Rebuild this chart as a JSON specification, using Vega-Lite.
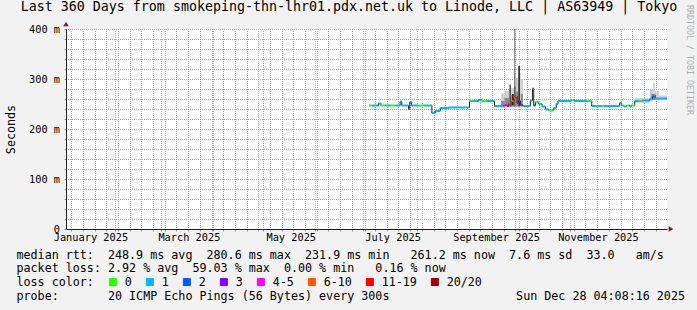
{
  "$schema": "https://vega.github.io/schema/vega-lite/v6.json",
  "width": 601,
  "height": 200,
  "autosize": "none",
  "padding": {"left": 66, "top": 29, "right": 30, "bottom": 81},
  "background": "#F2F2F2",
  "config": {"view": {"stroke": null, "fill": "#FFFFFF"}},
  "title": {
    "text": "Last 360 Days from smokeping-thn-lhr01.pdx.net.uk to Linode, LLC | AS63949 | Tokyo",
    "font": "DejaVu Sans Mono",
    "fontSize": 13.3,
    "fontWeight": "normal",
    "color": "#000000",
    "anchor": "middle",
    "frame": "group",
    "dx": -17.5,
    "baseline": "alphabetic",
    "offset": -19.5
  },
  "datasets": {
    "med": [
      {"s": "2025-07-03T08:00", "e": "2025-07-05T12:00", "m": 247, "l": "0"},
      {"s": "2025-07-05T12:00", "e": "2025-07-09T00:00", "m": 247, "l": "1"},
      {"s": "2025-07-09T00:00", "e": "2025-07-10T12:00", "m": 251, "l": "1"},
      {"s": "2025-07-10T12:00", "e": "2025-07-13T00:00", "m": 247, "l": "0"},
      {"s": "2025-07-13T00:00", "e": "2025-07-16T00:00", "m": 247, "l": "1"},
      {"s": "2025-07-16T00:00", "e": "2025-07-19T00:00", "m": 247, "l": "0"},
      {"s": "2025-07-19T00:00", "e": "2025-07-22T00:00", "m": 247, "l": "1"},
      {"s": "2025-07-22T00:00", "e": "2025-07-23T00:00", "m": 255, "l": "1"},
      {"s": "2025-07-23T00:00", "e": "2025-07-27T00:00", "m": 247, "l": "1"},
      {"s": "2025-07-27T00:00", "e": "2025-07-27T18:00", "m": 240, "l": "4-5"},
      {"s": "2025-07-27T18:00", "e": "2025-07-28T18:00", "m": 254, "l": "1"},
      {"s": "2025-07-28T18:00", "e": "2025-08-02T00:00", "m": 247, "l": "1"},
      {"s": "2025-08-02T00:00", "e": "2025-08-05T00:00", "m": 247, "l": "0"},
      {"s": "2025-08-05T00:00", "e": "2025-08-10T00:00", "m": 247, "l": "1"},
      {"s": "2025-08-10T00:00", "e": "2025-08-12T00:00", "m": 232, "l": "1"},
      {"s": "2025-08-12T00:00", "e": "2025-08-15T00:00", "m": 236, "l": "1"},
      {"s": "2025-08-15T00:00", "e": "2025-08-20T00:00", "m": 242, "l": "1"},
      {"s": "2025-08-20T00:00", "e": "2025-09-01T12:00", "m": 243, "l": "1"},
      {"s": "2025-09-01T12:00", "e": "2025-09-04T00:00", "m": 256, "l": "0"},
      {"s": "2025-09-04T00:00", "e": "2025-09-07T00:00", "m": 256, "l": "1"},
      {"s": "2025-09-07T00:00", "e": "2025-09-09T00:00", "m": 258, "l": "1"},
      {"s": "2025-09-09T00:00", "e": "2025-09-12T00:00", "m": 256, "l": "0"},
      {"s": "2025-09-12T00:00", "e": "2025-09-16T12:00", "m": 256, "l": "1"},
      {"s": "2025-09-16T12:00", "e": "2025-09-22T00:00", "m": 246, "l": "1"},
      {"s": "2025-09-22T00:00", "e": "2025-09-23T00:00", "m": 247, "l": "4-5"},
      {"s": "2025-09-23T00:00", "e": "2025-09-24T00:00", "m": 248, "l": "4-5"},
      {"s": "2025-09-24T00:00", "e": "2025-09-25T00:00", "m": 246, "l": "3"},
      {"s": "2025-09-25T00:00", "e": "2025-09-26T00:00", "m": 251, "l": "6-10"},
      {"s": "2025-09-26T00:00", "e": "2025-09-27T00:00", "m": 247, "l": "4-5"},
      {"s": "2025-09-27T00:00", "e": "2025-09-28T00:00", "m": 256, "l": "6-10"},
      {"s": "2025-09-28T00:00", "e": "2025-09-29T00:00", "m": 263, "l": "6-10"},
      {"s": "2025-09-29T00:00", "e": "2025-09-30T00:00", "m": 266, "l": "6-10"},
      {"s": "2025-09-30T00:00", "e": "2025-10-01T00:00", "m": 252, "l": "11-19"},
      {"s": "2025-10-01T00:00", "e": "2025-10-02T00:00", "m": 256, "l": "3"},
      {"s": "2025-10-02T00:00", "e": "2025-10-03T12:00", "m": 248, "l": "2"},
      {"s": "2025-10-03T12:00", "e": "2025-10-08T00:00", "m": 246, "l": "1"},
      {"s": "2025-10-08T00:00", "e": "2025-10-09T06:00", "m": 257, "l": "1"},
      {"s": "2025-10-09T06:00", "e": "2025-10-10T00:00", "m": 281, "l": "1"},
      {"s": "2025-10-10T00:00", "e": "2025-10-11T00:00", "m": 247, "l": "2"},
      {"s": "2025-10-11T00:00", "e": "2025-10-13T00:00", "m": 254, "l": "0"},
      {"s": "2025-10-13T00:00", "e": "2025-10-15T00:00", "m": 250, "l": "1"},
      {"s": "2025-10-15T00:00", "e": "2025-10-17T00:00", "m": 245, "l": "1"},
      {"s": "2025-10-17T00:00", "e": "2025-10-19T00:00", "m": 239, "l": "1"},
      {"s": "2025-10-19T00:00", "e": "2025-10-22T00:00", "m": 237, "l": "0"},
      {"s": "2025-10-22T00:00", "e": "2025-10-23T12:00", "m": 242, "l": "1"},
      {"s": "2025-10-23T12:00", "e": "2025-10-24T12:00", "m": 250, "l": "1"},
      {"s": "2025-10-24T12:00", "e": "2025-11-01T12:00", "m": 256, "l": "1"},
      {"s": "2025-11-01T12:00", "e": "2025-11-03T12:00", "m": 258, "l": "0"},
      {"s": "2025-11-03T12:00", "e": "2025-11-11T00:00", "m": 256, "l": "1"},
      {"s": "2025-11-11T00:00", "e": "2025-11-13T18:00", "m": 256, "l": "0"},
      {"s": "2025-11-13T18:00", "e": "2025-11-19T12:00", "m": 246, "l": "1"},
      {"s": "2025-11-19T12:00", "e": "2025-11-21T12:00", "m": 246, "l": "0"},
      {"s": "2025-11-21T12:00", "e": "2025-11-30T12:00", "m": 246, "l": "1"},
      {"s": "2025-11-30T12:00", "e": "2025-12-01T12:00", "m": 252, "l": "1"},
      {"s": "2025-12-01T12:00", "e": "2025-12-03T00:00", "m": 247, "l": "0"},
      {"s": "2025-12-03T00:00", "e": "2025-12-04T12:00", "m": 245, "l": "1"},
      {"s": "2025-12-04T12:00", "e": "2025-12-06T12:00", "m": 247, "l": "0"},
      {"s": "2025-12-06T12:00", "e": "2025-12-07T12:00", "m": 245, "l": "1"},
      {"s": "2025-12-07T12:00", "e": "2025-12-09T12:00", "m": 247, "l": "0"},
      {"s": "2025-12-09T12:00", "e": "2025-12-12T00:00", "m": 256, "l": "1"},
      {"s": "2025-12-12T00:00", "e": "2025-12-14T00:00", "m": 256, "l": "0"},
      {"s": "2025-12-14T00:00", "e": "2025-12-18T12:00", "m": 257, "l": "1"},
      {"s": "2025-12-18T12:00", "e": "2025-12-20T00:00", "m": 260, "l": "1"},
      {"s": "2025-12-20T00:00", "e": "2025-12-21T00:00", "m": 265, "l": "2"},
      {"s": "2025-12-21T00:00", "e": "2025-12-21T18:00", "m": 267, "l": "1"},
      {"s": "2025-12-21T18:00", "e": "2025-12-28T20:00", "m": 261, "l": "1"}
    ],
    "smoke": [
      {"s": "2025-09-07T12:00", "e": "2025-09-09T12:00", "lo": 252, "hi": 262, "g": "a"},
      {"s": "2025-09-20T12:00", "e": "2025-09-22T12:00", "lo": 243, "hi": 271, "g": "a"},
      {"s": "2025-09-22T12:00", "e": "2025-09-25T06:00", "lo": 243, "hi": 276, "g": "a"},
      {"s": "2025-09-25T06:00", "e": "2025-09-26T12:00", "lo": 243, "hi": 280, "g": "a"},
      {"s": "2025-09-26T12:00", "e": "2025-09-28T06:00", "lo": 243, "hi": 282, "g": "a"},
      {"s": "2025-09-28T06:00", "e": "2025-09-29T06:00", "lo": 243, "hi": 310, "g": "a"},
      {"s": "2025-09-29T06:00", "e": "2025-09-30T18:00", "lo": 243, "hi": 302, "g": "a"},
      {"s": "2025-09-30T18:00", "e": "2025-10-02T06:00", "lo": 243, "hi": 312, "g": "a"},
      {"s": "2025-10-02T06:00", "e": "2025-10-03T12:00", "lo": 243, "hi": 300, "g": "a"},
      {"s": "2025-12-09T12:00", "e": "2025-12-18T12:00", "lo": 252, "hi": 262, "g": "a"},
      {"s": "2025-12-18T12:00", "e": "2025-12-20T12:00", "lo": 255, "hi": 279, "g": "a"},
      {"s": "2025-12-20T12:00", "e": "2025-12-21T12:00", "lo": 258, "hi": 292, "g": "a"},
      {"s": "2025-12-21T12:00", "e": "2025-12-24T00:00", "lo": 258, "hi": 276, "g": "a"},
      {"s": "2025-12-24T00:00", "e": "2025-12-28T20:00", "lo": 258, "hi": 267, "g": "a"},
      {"s": "2025-09-20T12:00", "e": "2025-09-22T12:00", "lo": 245, "hi": 256, "g": "b"},
      {"s": "2025-09-22T12:00", "e": "2025-09-25T06:00", "lo": 245, "hi": 262, "g": "b"},
      {"s": "2025-09-26T12:00", "e": "2025-09-28T06:00", "lo": 245, "hi": 268, "g": "b"},
      {"s": "2025-09-28T06:00", "e": "2025-09-29T06:00", "lo": 245, "hi": 285, "g": "b"},
      {"s": "2025-09-29T06:00", "e": "2025-09-30T18:00", "lo": 245, "hi": 275, "g": "b"},
      {"s": "2025-10-02T06:00", "e": "2025-10-03T12:00", "lo": 245, "hi": 270, "g": "b"},
      {"s": "2025-12-19T12:00", "e": "2025-12-22T00:00", "lo": 258, "hi": 270, "g": "b"},
      {"s": "2025-09-25T12:00", "e": "2025-09-26T06:00", "lo": 245, "hi": 289, "g": "c"},
      {"s": "2025-09-27T00:00", "e": "2025-09-28T00:00", "lo": 248, "hi": 270, "g": "c"},
      {"s": "2025-09-28T12:00", "e": "2025-09-28T22:00", "lo": 245, "hi": 400, "g": "c"},
      {"s": "2025-09-30T18:00", "e": "2025-10-01T18:00", "lo": 245, "hi": 326, "g": "c"}
    ],
    "ax": [
      {"s": "2025-01-02T20:00", "m": 400, "k": "up"},
      {"s": "2025-12-28T20:00", "m": 0, "k": "right"}
    ]
  },
  "layer": [
    {
      "data": {"name": "smoke"},
      "mark": {"type": "rect", "clip": true},
      "encoding": {
        "x": {
          "field": "s",
          "type": "temporal",
          "scale": {"domain": [{"year": 2025, "month": 1, "date": 2, "hours": 20}, {"year": 2025, "month": 12, "date": 28, "hours": 20}]},
          "axis": {
            "orient": "bottom",
            "values": [
              {"year": 2025, "month": 1, "date": 6}, {"year": 2025, "month": 1, "date": 13}, {"year": 2025, "month": 1, "date": 20}, {"year": 2025, "month": 1, "date": 27},
              {"year": 2025, "month": 2, "date": 3}, {"year": 2025, "month": 2, "date": 10}, {"year": 2025, "month": 2, "date": 17}, {"year": 2025, "month": 2, "date": 24},
              {"year": 2025, "month": 3, "date": 3}, {"year": 2025, "month": 3, "date": 10}, {"year": 2025, "month": 3, "date": 17}, {"year": 2025, "month": 3, "date": 24}, {"year": 2025, "month": 3, "date": 31},
              {"year": 2025, "month": 4, "date": 7}, {"year": 2025, "month": 4, "date": 14}, {"year": 2025, "month": 4, "date": 21}, {"year": 2025, "month": 4, "date": 28},
              {"year": 2025, "month": 5, "date": 5}, {"year": 2025, "month": 5, "date": 12}, {"year": 2025, "month": 5, "date": 19}, {"year": 2025, "month": 5, "date": 26},
              {"year": 2025, "month": 6, "date": 2}, {"year": 2025, "month": 6, "date": 9}, {"year": 2025, "month": 6, "date": 16}, {"year": 2025, "month": 6, "date": 23}, {"year": 2025, "month": 6, "date": 30},
              {"year": 2025, "month": 7, "date": 7}, {"year": 2025, "month": 7, "date": 14}, {"year": 2025, "month": 7, "date": 21}, {"year": 2025, "month": 7, "date": 28},
              {"year": 2025, "month": 8, "date": 4}, {"year": 2025, "month": 8, "date": 11}, {"year": 2025, "month": 8, "date": 18}, {"year": 2025, "month": 8, "date": 25},
              {"year": 2025, "month": 9, "date": 8}, {"year": 2025, "month": 9, "date": 15}, {"year": 2025, "month": 9, "date": 22}, {"year": 2025, "month": 9, "date": 29},
              {"year": 2025, "month": 10, "date": 6}, {"year": 2025, "month": 10, "date": 13}, {"year": 2025, "month": 10, "date": 20}, {"year": 2025, "month": 10, "date": 27},
              {"year": 2025, "month": 11, "date": 3}, {"year": 2025, "month": 11, "date": 10}, {"year": 2025, "month": 11, "date": 17}, {"year": 2025, "month": 11, "date": 24},
              {"year": 2025, "month": 12, "date": 8}, {"year": 2025, "month": 12, "date": 15}, {"year": 2025, "month": 12, "date": 22}
            ],
            "grid": true,
            "gridColor": "rgba(143,143,143,0.75)",
            "gridDash": [1, 1],
            "gridDashOffset": 0.5,
            "gridWidth": 1,
            "ticks": true,
            "tickSize": 2,
            "tickColor": "rgba(143,143,143,0.9)",
            "domain": false,
            "labels": false,
            "title": null
          }
        },
        "x2": {"field": "e"},
        "y": {
          "field": "lo",
          "type": "quantitative",
          "scale": {"domain": [0, 400], "nice": false},
          "axis": {
            "orient": "left",
            "values": [20, 40, 60, 80, 120, 140, 160, 180, 220, 240, 260, 280, 320, 340, 360, 380],
            "grid": true,
            "gridColor": "rgba(143,143,143,0.75)",
            "gridDash": [1, 1],
            "gridDashOffset": 0.5,
            "gridWidth": 1,
            "ticks": true,
            "tickSize": 2,
            "tickColor": "rgba(143,143,143,0.9)",
            "domain": false,
            "labels": false,
            "title": null
          }
        },
        "y2": {"field": "hi"},
        "fill": {
          "field": "g",
          "type": "nominal",
          "scale": {"domain": ["a", "b", "c"], "range": ["#CFCFCF", "#8C8C8C", "#2E2E2E"]},
          "legend": null
        }
      }
    },
    {
      "data": {"name": "med"},
      "mark": {"type": "line", "interpolate": "step-after", "color": "#202020", "strokeWidth": 1, "clip": true},
      "encoding": {
        "x": {
          "field": "s",
          "type": "temporal",
          "scale": {"domain": [{"year": 2025, "month": 1, "date": 2, "hours": 20}, {"year": 2025, "month": 12, "date": 28, "hours": 20}]},
          "axis": {
            "orient": "bottom",
            "values": [
              {"year": 2025, "month": 2, "date": 1}, {"year": 2025, "month": 3, "date": 1},
              {"year": 2025, "month": 4, "date": 1}, {"year": 2025, "month": 5, "date": 1}, {"year": 2025, "month": 6, "date": 1},
              {"year": 2025, "month": 7, "date": 1}, {"year": 2025, "month": 8, "date": 1}, {"year": 2025, "month": 9, "date": 1},
              {"year": 2025, "month": 10, "date": 1}, {"year": 2025, "month": 11, "date": 1}, {"year": 2025, "month": 12, "date": 1}
            ],
            "grid": true,
            "gridColor": "rgba(222,79,79,0.6)",
            "gridDash": [1, 1],
            "gridDashOffset": 0.5,
            "gridWidth": 1,
            "ticks": true,
            "tickSize": 2,
            "tickColor": "rgba(222,79,79,0.8)",
            "domain": true,
            "domainColor": "#1F1F1F",
            "labels": false,
            "title": [
              "median\u00a0rtt:\u00a0\u00a0248.9\u00a0ms\u00a0avg\u00a0\u00a0280.6\u00a0ms\u00a0max\u00a0\u00a0231.9\u00a0ms\u00a0min\u00a0\u00a0\u00a0261.2\u00a0ms\u00a0now\u00a0\u00a07.6\u00a0ms\u00a0sd\u00a0\u00a033.0\u00a0\u00a0\u00a0am/s",
              "packet\u00a0loss:\u00a02.92\u00a0%\u00a0avg\u00a0\u00a059.03\u00a0%\u00a0max\u00a0\u00a00.00\u00a0%\u00a0min\u00a0\u00a0\u00a00.16\u00a0%\u00a0now",
              "loss\u00a0color:",
              "probe:\u00a0\u00a0\u00a0\u00a0\u00a0\u00a0\u00a020\u00a0ICMP\u00a0Echo\u00a0Pings\u00a0(56\u00a0Bytes)\u00a0every\u00a0300s\u00a0\u00a0\u00a0\u00a0\u00a0\u00a0\u00a0\u00a0\u00a0\u00a0\u00a0\u00a0\u00a0\u00a0\u00a0\u00a0\u00a0\u00a0Sun\u00a0Dec\u00a028\u00a004:08:16\u00a02025"
            ],
            "titleX": -50,
            "titleY": 29.2,
            "titleAlign": "left",
            "titleAnchor": "start",
            "titleBaseline": "alphabetic",
            "titleFont": "DejaVu Sans Mono",
            "titleFontSize": 11.7,
            "titleFontWeight": "normal",
            "titleColor": "#000000",
            "titleLineHeight": 13.8
          }
        },
        "y": {
          "field": "m",
          "type": "quantitative",
          "scale": {"domain": [0, 400], "nice": false},
          "axis": {
            "orient": "left",
            "values": [0, 100, 200, 300, 400],
            "grid": true,
            "gridColor": "rgba(222,79,79,0.6)",
            "gridDash": [1, 1],
            "gridDashOffset": 0.5,
            "gridWidth": 1,
            "ticks": true,
            "tickSize": 2,
            "tickColor": "rgba(222,79,79,0.8)",
            "domain": true,
            "domainColor": "#1F1F1F",
            "labelExpr": "datum.value == 0 ? '0\u00a0\u00a0' : datum.value + '\u00a0m'",
            "labelFont": "DejaVu Sans Mono",
            "labelFontSize": 10.3,
            "labelColor": "#000000",
            "labelPadding": 4.5,
            "labelOverlap": false,
            "labelBound": false,
            "labelFlush": false,
            "title": "Seconds",
            "titleFont": "DejaVu Sans Mono",
            "titleFontSize": 11.7,
            "titleFontWeight": "normal",
            "titleColor": "#000000",
            "titleX": -56,
            "titleY": 100,
            "titleAngle": 270,
            "titleAlign": "center",
            "titleBaseline": "middle"
          }
        }
      }
    },
    {
      "data": {"name": "med"},
      "mark": {"type": "rule", "strokeWidth": 2, "strokeCap": "butt", "clip": true},
      "encoding": {
        "x": {
          "field": "s",
          "type": "temporal",
          "scale": {"domain": [{"year": 2025, "month": 1, "date": 2, "hours": 20}, {"year": 2025, "month": 12, "date": 28, "hours": 20}]},
          "axis": {
            "orient": "bottom",
            "values": [
              {"year": 2025, "month": 1, "date": 17, "hours": 11}, {"year": 2025, "month": 3, "date": 17, "hours": 11},
              {"year": 2025, "month": 5, "date": 17, "hours": 11}, {"year": 2025, "month": 7, "date": 17, "hours": 11},
              {"year": 2025, "month": 9, "date": 17, "hours": 11}, {"year": 2025, "month": 11, "date": 17, "hours": 11}
            ],
            "format": "%B %Y",
            "grid": false,
            "ticks": false,
            "domain": false,
            "labelPadding": 11.5,
            "labelBaseline": "alphabetic",
            "labelAlign": "center",
            "labelFont": "DejaVu Sans Mono",
            "labelFontSize": 10.3,
            "labelColor": "#000000",
            "labelOverlap": false,
            "labelBound": false,
            "labelFlush": false,
            "title": null
          }
        },
        "x2": {"field": "e"},
        "y": {"field": "m", "type": "quantitative", "scale": {"domain": [0, 400], "nice": false}, "axis": null},
        "color": {
          "field": "l",
          "type": "nominal",
          "scale": {
            "domain": ["0", "1", "2", "3", "4-5", "6-10", "11-19", "20/20"],
            "range": ["#26ff00", "#00b8ff", "#0059ff", "#7e00ff", "#ff00ff", "#ff5500", "#ff0000", "#a00000"]
          },
          "legend": {
            "orient": "none",
            "legendX": 41,
            "legendY": 247,
            "direction": "horizontal",
            "title": null,
            "padding": 0,
            "symbolType": "square",
            "symbolSize": 49,
            "labelFont": "DejaVu Sans Mono",
            "labelFontSize": 11.7,
            "labelColor": "#000000",
            "labelOffset": 6,
            "columnPadding": 12,
            "encode": {
              "symbols": {
                "update": {
                  "fill": {"scale": "color", "field": "value"},
                  "stroke": {"value": "#000000"},
                  "strokeWidth": {"value": 1},
                  "opacity": {"value": 1}
                }
              }
            }
          }
        }
      }
    },
    {
      "data": {"name": "ax"},
      "transform": [{"filter": "datum.k == 'up'"}],
      "mark": {"type": "point", "shape": "triangle-up", "filled": true, "color": "#801F1F", "size": 30, "opacity": 1, "yOffset": -5},
      "encoding": {
        "x": {
          "field": "s",
          "type": "temporal",
          "scale": {"domain": [{"year": 2025, "month": 1, "date": 2, "hours": 20}, {"year": 2025, "month": 12, "date": 28, "hours": 20}]},
          "axis": null
        },
        "y": {
          "field": "m",
          "type": "quantitative",
          "scale": {"domain": [0, 400], "nice": false},
          "axis": {
            "orient": "right",
            "grid": false,
            "labels": false,
            "ticks": false,
            "domain": false,
            "title": "RRDTOOL / TOBI OETIKER",
            "titleAngle": 90,
            "titleX": 21,
            "titleY": -24.5,
            "titleAlign": "left",
            "titleBaseline": "middle",
            "titleFont": "DejaVu Sans Mono",
            "titleFontSize": 8.3,
            "titleFontWeight": "normal",
            "titleColor": "#B0B0B0"
          }
        }
      }
    },
    {
      "data": {"name": "ax"},
      "transform": [{"filter": "datum.k == 'right'"}],
      "mark": {"type": "point", "shape": "triangle-right", "filled": true, "color": "#801F1F", "size": 30, "opacity": 1, "xOffset": 4},
      "encoding": {
        "x": {
          "field": "s",
          "type": "temporal",
          "scale": {"domain": [{"year": 2025, "month": 1, "date": 2, "hours": 20}, {"year": 2025, "month": 12, "date": 28, "hours": 20}]},
          "axis": null
        },
        "y": {"field": "m", "type": "quantitative", "scale": {"domain": [0, 400], "nice": false}, "axis": null}
      }
    }
  ],
  "resolve": {"axis": {"x": "independent", "y": "independent"}}
}
